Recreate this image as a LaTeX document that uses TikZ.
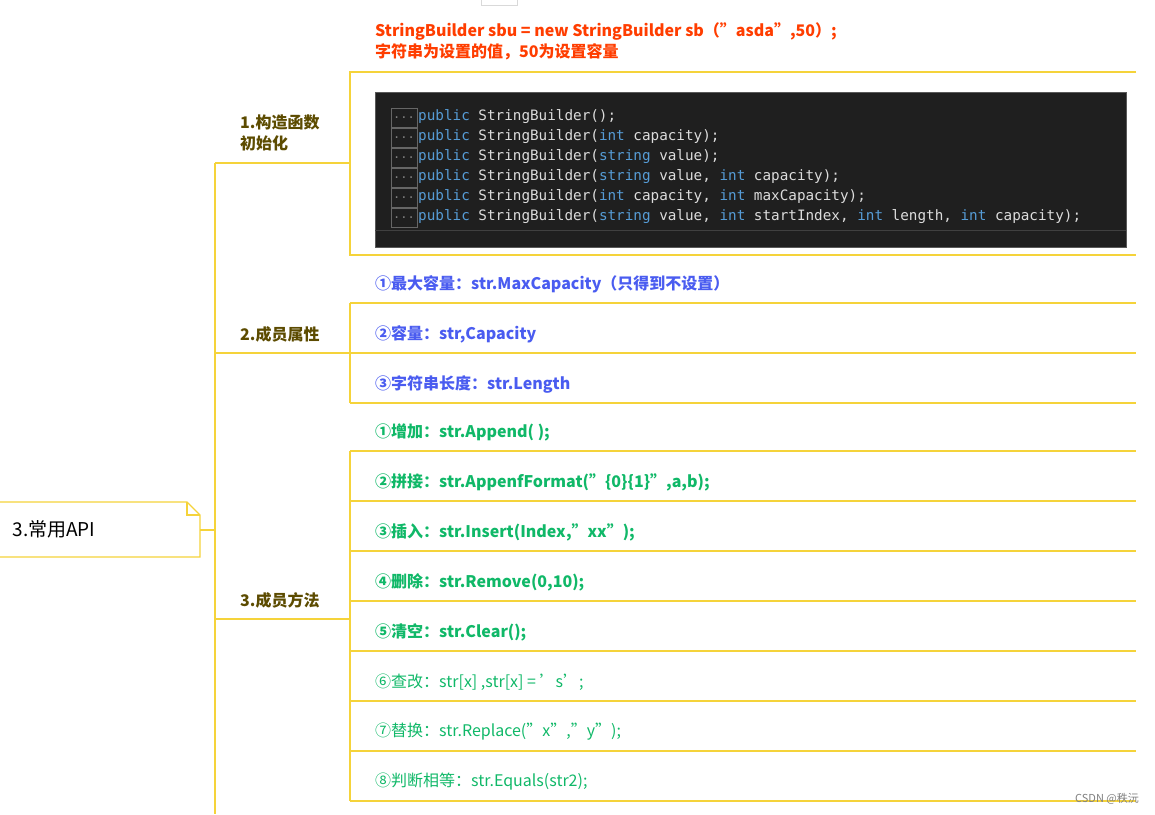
\documentclass[tikz,border=0pt]{standalone}
\usepackage{fontspec}
\setmainfont{Noto Sans CJK SC}
\newfontfamily\cmono{DejaVu Sans Mono}
\definecolor{yl}{HTML}{F5D33A}
\definecolor{olive}{HTML}{5C4B00}
\definecolor{rd}{HTML}{FF3D00}
\definecolor{bl}{HTML}{4A5CF0}
\definecolor{gr}{HTML}{10B868}
\definecolor{kw}{HTML}{569CD6}
\definecolor{tx}{HTML}{DCDCDC}
\begin{document}
\begin{tikzpicture}[x=1pt,y=-1pt,
  ln/.style={draw=yl,line width=1.3pt},
  topic/.style={anchor=west,font=\fontsize{16}{21}\selectfont\bfseries,text=olive,align=left,inner sep=0},
  it/.style={anchor=west,font=\fontsize{16}{20}\selectfont\bfseries,inner sep=0},
  itn/.style={anchor=west,font=\fontsize{16}{20}\selectfont,inner sep=0},
  cl/.style={anchor=west,font=\cmono\fontsize{14.3}{20}\selectfont,text=tx,inner sep=0},
  dots/.style={draw=gray!80!black,text=gray,font=\cmono\fontsize{12}{12}\selectfont,minimum width=26,minimum height=19,inner sep=0}]
\useasboundingbox (0,0) rectangle (1155,814);
\draw[gray!30] (481,-1) rectangle (517,5);
% root
\draw[ln,fill=white] (0,502) -- (187,502) -- (200,515) -- (200,557) -- (0,557);
\draw[ln] (187,502) -- (187,515) -- (200,515);
\node[anchor=west,font=\fontsize{19}{22}\selectfont] (root) at (9,529) {3.常用API};
\coordinate (r1) at (200,530);
\coordinate (s) at (215,530);
\draw[ln] (r1) -- (s);
\draw[ln] (215,163) -- (215,814);
% topics
\draw[ln] (215,163) -- (350,163);
\draw[ln] (215,353) -- (350,353);
\draw[ln] (215,619) -- (350,619);
\node[topic] (t1) at (240,133) {1.构造函数\\初始化};
\node[topic] (t2) at (240,334) {2.成员属性};
\node[topic] (t3) at (240,600) {3.成员方法};
% branch1 box
\draw[ln] (1136,72) -- (350,72) -- (350,255) -- (1136,255);
\node[anchor=west,font=\fontsize{16}{21}\selectfont\bfseries,text=rd,align=left,inner sep=0] (note) at (375,41) {StringBuilder sbu = new StringBuilder sb（"asda",50）;\\字符串为设置的值，50为设置容量};
\draw[fill=black!88,draw=gray!70!black] (375,92) rectangle (1126,247);
\draw[gray!50!black,line width=1pt] (375,230) -- (1126,230);
\foreach \y/\c in {117/{\textcolor{kw}{public} StringBuilder();},
 137/{\textcolor{kw}{public} StringBuilder(\textcolor{kw}{int} capacity);},
 157/{\textcolor{kw}{public} StringBuilder(\textcolor{kw}{string} value);},
 177/{\textcolor{kw}{public} StringBuilder(\textcolor{kw}{string} value, \textcolor{kw}{int} capacity);},
 197/{\textcolor{kw}{public} StringBuilder(\textcolor{kw}{int} capacity, \textcolor{kw}{int} maxCapacity);},
 217/{\textcolor{kw}{public} StringBuilder(\textcolor{kw}{string} value, \textcolor{kw}{int} startIndex, \textcolor{kw}{int} length, \textcolor{kw}{int} capacity);}}{
  \node[dots] at (404,\y+1) {...};
  \node[cl] at (418,\y) {\c};
}
% branch2
\draw[ln] (350,303) -- (350,403);
\foreach \y in {303,353,403} \draw[ln] (350,\y) -- (1136,\y);
\node[it,text=bl] (a1) at (375,284) {①最大容量：str.MaxCapacity（只得到不设置）};
\node[it,text=bl] (a2) at (375,334) {②容量：str,Capacity};
\node[it,text=bl] (a3) at (375,384) {③字符串长度：str.Length};
% branch3
\draw[ln] (350,451) -- (350,801);
\foreach \y in {451,501,551,601,651,701,751} \draw[ln] (350,\y) -- (1136,\y);
\draw[ln] (350,801) -- (1136,801);
\node[it,text=gr] (m1) at (375,432) {①增加：str.Append( );};
\node[it,text=gr] (m2) at (375,482) {②拼接：str.AppenfFormat("\{0\}\{1\}",a,b);};
\node[it,text=gr] (m3) at (375,532) {③插入：str.Insert(Index,"xx");};
\node[it,text=gr] (m4) at (375,582) {④删除：str.Remove(0,10);};
\node[it,text=gr] (m5) at (375,632) {⑤清空：str.Clear();};
\node[itn,text=gr] (m6) at (375,682) {⑥查改：str[x] ,str[x] = 's';};
\node[itn,text=gr] (m7) at (375,732) {⑦替换：str.Replace("x","y");};
\node[itn,text=gr] (m8) at (375,782) {⑧判断相等：str.Equals(str2);};
\node[anchor=east,font=\fontsize{11}{12}\selectfont,text=gray,inner sep=0] (wm) at (1139,799) {CSDN @秩沅};
\end{tikzpicture}
\end{document}
